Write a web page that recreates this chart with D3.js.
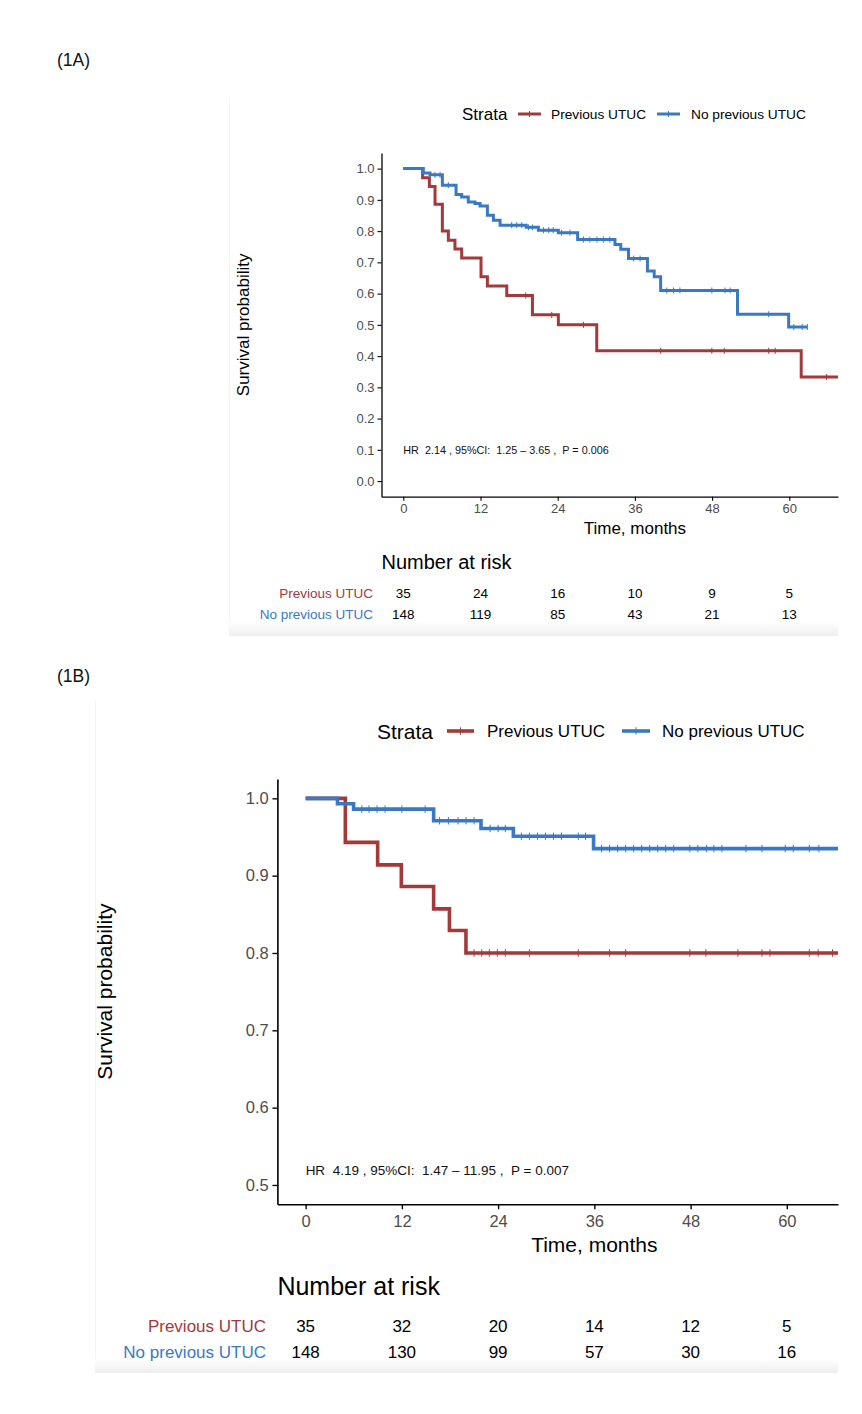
<!DOCTYPE html>
<html>
<head>
<meta charset="utf-8">
<script src="https://cdn.jsdelivr.net/npm/d3@7"></script>
<style>
  body { margin: 0; background: #fff; }
  svg text { font-family: "Liberation Sans", Arial, Helvetica, sans-serif; }
</style>
</head>
<body>
<div id="chart"></div>
<script>
// Kaplan-Meier curves, two panels (1A, 1B)
const groups = ["Previous UTUC", "No previous UTUC"];
const colors = ["#a3393a", "#3a78c4"];
const riskTimes = [0, 12, 24, 36, 48, 60];
const xTicks = [0, 12, 24, 36, 48, 60];

// Panel 1A
const timeA_prev = [0, 3.0, 4.05, 4.93, 6.07, 7.0, 8.03, 9.07, 12.08, 13.07, 16.08, 20.07, 24.1, 30.07, 61.85, 70];
const survA_prev = [1, 0.971, 0.943, 0.886, 0.800, 0.771, 0.743, 0.714, 0.654, 0.624, 0.594, 0.532, 0.500, 0.417, 0.333, 0.333];
const censA_prev = [19.03, 23.07, 28.0, 40.0, 47.96, 49.9, 56.8, 57.8, 65.8];
const timeA_no = [0, 3.11, 4.15, 6.07, 8.2, 9.07, 10.1, 11.15, 11.93, 13.07, 14.0, 15.04, 19.1, 21.0, 24.1, 27.1, 32.9, 33.8, 35.0, 37.95, 39.0, 40.0, 51.95, 59.9, 62.8];
const survA_no = [1, 0.986, 0.980, 0.947, 0.917, 0.909, 0.893, 0.888, 0.880, 0.851, 0.835, 0.819, 0.812, 0.803, 0.795, 0.773, 0.757, 0.742, 0.712, 0.672, 0.654, 0.610, 0.534, 0.493, 0.493];
const censA_no = [4.93, 5.71, 7.0, 16.85, 17.63, 18.41, 19.44, 20.1, 21.8, 22.6, 23.3, 24.6, 25.9, 28.0, 29.0, 30.1, 31.1, 32.1, 35.8, 36.8, 40.96, 42.0, 43.0, 47.96, 50.0, 50.8, 56.8, 60.7, 62.0, 62.8];
const riskA_prev = [35, 24, 16, 10, 9, 5];
const riskA_no = [148, 119, 85, 43, 21, 13];
const yTicksA = [0, 0.1, 0.2, 0.3, 0.4, 0.5, 0.6, 0.7, 0.8, 0.9, 1.0];

// Panel 1B
const timeB_prev = [0, 4.95, 8.98, 11.93, 15.96, 17.93, 19.99, 70];
const survB_prev = [1, 0.943, 0.914, 0.886, 0.857, 0.829, 0.800, 0.800];
const censB_prev = [21.0, 21.96, 22.9, 23.9, 24.9, 27.9, 34.0, 37.9, 39.9, 47.9, 49.9, 53.9, 56.9, 57.9, 62.8, 63.9, 65.7];
const timeB_no = [0, 3.97, 5.98, 15.96, 21.87, 25.9, 35.9, 70];
const survB_no = [1, 0.993, 0.986, 0.971, 0.961, 0.951, 0.935, 0.935];
const censB_no = [7.0, 7.9, 8.9, 9.9, 12.0, 14.9, 16.7, 17.8, 19.0, 20.0, 21.0, 23.0, 24.0, 24.9,
  26.9, 27.9, 28.9, 29.9, 30.9, 31.9, 34.0, 34.9, 36.9, 37.9, 38.9, 39.9, 40.9, 41.9, 42.9, 43.9,
  44.9, 45.9, 47.9, 48.9, 50.0, 50.9, 51.9, 54.9, 56.9, 59.8, 60.8, 62.8, 64.0];
const riskB_prev = [35, 32, 20, 14, 12, 5];
const riskB_no = [148, 130, 99, 57, 30, 16];
const yTicksB = [0.5, 0.6, 0.7, 0.8, 0.9, 1.0];

const svg = d3.select("#chart").append("svg")
  .attr("width", 862).attr("height", 1414);

const defs = svg.append("defs");
const grad = defs.append("linearGradient").attr("id", "fade")
  .attr("x1", 0).attr("y1", 0).attr("x2", 0).attr("y2", 1);
grad.append("stop").attr("offset", "0%").attr("stop-color", "#fff");
grad.append("stop").attr("offset", "100%").attr("stop-color", "#eeeeee");

function drawPanel(cfg) {
  const g = svg.append("g");
  const f = cfg.k; // size factor

  // faint panel frame + bottom shade
  g.append("line").attr("x1", cfg.box[0] + 0.5).attr("x2", cfg.box[0] + 0.5)
    .attr("y1", cfg.box[1]).attr("y2", cfg.box[3]).attr("stroke", "#f4f4f4");
  g.append("rect").attr("x", cfg.box[0]).attr("y", cfg.box[3] - 14)
    .attr("width", cfg.box[2] - cfg.box[0]).attr("height", 14).attr("fill", "url(#fade)");

  g.append("text").attr("x", 57).attr("y", cfg.titleY).attr("dominant-baseline", "central")
    .attr("font-size", 17.5).attr("fill", "#111").text(cfg.title);

  const x = d3.scaleLinear().domain(cfg.xDomain).range(cfg.xRange);
  const y = d3.scaleLinear().domain(cfg.yDomain).range(cfg.yRange);

  const clipId = "clip" + cfg.title.replace(/\W/g, "");
  defs.append("clipPath").attr("id", clipId).append("rect")
    .attr("x", cfg.xRange[0]).attr("y", cfg.yRange[1] - 5)
    .attr("width", cfg.xRange[1] - cfg.xRange[0]).attr("height", cfg.yRange[0] - cfg.yRange[1] + 5);

  // axes
  const xAxis = g.append("g").attr("transform", `translate(0,${cfg.yRange[0]})`)
    .call(d3.axisBottom(x).tickValues(xTicks).tickSize(4 * f).tickPadding(cfg.xPad).tickSizeOuter(0));
  const yAxis = g.append("g").attr("transform", `translate(${cfg.xRange[0]},0)`)
    .call(d3.axisLeft(y).tickValues(cfg.yTicks).tickFormat(d3.format(".1f"))
      .tickSize(4 * f).tickPadding(3 * f).tickSizeOuter(0));
  [xAxis, yAxis].forEach(a => {
    a.select(".domain").attr("stroke", "#000").attr("stroke-width", 1.3 * f);
    a.selectAll(".tick line").attr("stroke", "#000").attr("stroke-width", 1.1 * f);
    a.selectAll(".tick text").attr("fill", "#4d4d4d").attr("font-size", cfg.tickFont)
      .style("font-family", '"Liberation Sans", Arial, sans-serif');
  });

  // curves
  const line = d3.line().x(d => x(d[0])).y(d => y(d[1])).curve(d3.curveStepAfter);
  const curves = g.append("g").attr("clip-path", `url(#${clipId})`);
  cfg.series.forEach((s, i) => {
    const pts = s.time.map((t, j) => [t, s.surv[j]]);
    curves.append("path").attr("d", line(pts)).attr("fill", "none")
      .attr("stroke", colors[i]).attr("stroke-width", cfg.lw).attr("stroke-linejoin", "miter");
    const survAt = t => s.surv[d3.bisectRight(s.time, t) - 1];
    curves.selectAll(null).data(s.cens).enter().append("line")
      .attr("x1", d => x(d)).attr("x2", d => x(d))
      .attr("y1", d => y(survAt(d)) - 3 * f).attr("y2", d => y(survAt(d)) + 3 * f)
      .attr("stroke", colors[i]).attr("stroke-width", 1);
  });

  // HR annotation
  g.append("text").attr("x", x(0)).attr("y", cfg.hrY).attr("dominant-baseline", "central")
    .attr("font-size", cfg.hrFont).attr("fill", "#111").style("white-space", "pre").text(cfg.hr);

  // axis titles
  g.append("text").attr("transform", `translate(${cfg.yTitleX},${(cfg.yRange[0] + cfg.yRange[1]) / 2}) rotate(-90)`)
    .attr("text-anchor", "middle").attr("dominant-baseline", "central")
    .attr("font-size", cfg.titleFont).attr("fill", "#000").text("Survival probability");
  g.append("text").attr("x", x(36)).attr("y", cfg.xTitleY).attr("text-anchor", "middle")
    .attr("dominant-baseline", "central").attr("font-size", cfg.titleFont).attr("fill", "#000")
    .text("Time, months");

  // legend
  const lg = g.append("g");
  lg.append("text").attr("x", cfg.leg.strata).attr("y", cfg.leg.y).attr("dominant-baseline", "central")
    .attr("font-size", cfg.leg.titleFont).attr("fill", "#000").text("Strata");
  groups.forEach((name, i) => {
    const [a, b] = cfg.leg.sw[i];
    lg.append("line").attr("x1", a).attr("x2", b).attr("y1", cfg.leg.y).attr("y2", cfg.leg.y)
      .attr("stroke", colors[i]).attr("stroke-width", cfg.lw);
    lg.append("line").attr("x1", (a + b) / 2).attr("x2", (a + b) / 2)
      .attr("y1", cfg.leg.y - 3 * f).attr("y2", cfg.leg.y + 3 * f)
      .attr("stroke", colors[i]).attr("stroke-width", 1);
    lg.append("text").attr("x", cfg.leg.lab[i]).attr("y", cfg.leg.y).attr("dominant-baseline", "central")
      .attr("font-size", cfg.leg.font).attr("fill", "#000").text(name);
  });

  // risk table
  g.append("text").attr("x", cfg.xRange[0]).attr("y", cfg.riskTitleY).attr("dominant-baseline", "central")
    .attr("font-size", cfg.riskTitleFont).attr("fill", "#000").text("Number at risk");
  cfg.risk.forEach((row, i) => {
    const ry = cfg.riskY[i];
    g.append("text").attr("x", cfg.riskLabX).attr("y", ry).attr("text-anchor", "end")
      .attr("dominant-baseline", "central").attr("font-size", cfg.riskFont)
      .attr("fill", colors[i]).text(groups[i]);
    g.selectAll(null).data(row).enter().append("text")
      .attr("x", (d, j) => x(riskTimes[j])).attr("y", ry).attr("text-anchor", "middle")
      .attr("dominant-baseline", "central").attr("font-size", cfg.riskFont).attr("fill", "#000")
      .text(d => d);
  });
}

drawPanel({
  title: "(1A)", titleY: 60, k: 1,
  box: [229, 97, 838, 636],
  xDomain: [-3.39, 67.57], xRange: [381.5, 838],
  yDomain: [-0.05, 1.05], yRange: [496.7, 153],
  yTicks: yTicksA, tickFont: 13, lw: 3, xPad: 3.5,
  series: [
    { time: timeA_prev, surv: survA_prev, cens: censA_prev },
    { time: timeA_no, surv: survA_no, cens: censA_no }
  ],
  hr: "HR  2.14 , 95%CI:  1.25 \u2013 3.65 ,  P = 0.006", hrY: 450, hrFont: 10.8,
  yTitleX: 243, xTitleY: 528, titleFont: 17,
  leg: { y: 114, strata: 462, titleFont: 17, font: 13.7, sw: [[518, 541], [657, 680]], lab: [551, 691] },
  riskTitleY: 562, riskTitleFont: 20, riskY: [593, 614], riskFont: 13.5, riskLabX: 373,
  risk: [riskA_prev, riskA_no]
});

drawPanel({
  title: "(1B)", titleY: 676, k: 1.24,
  box: [95, 700, 838, 1373],
  xDomain: [-3.52, 66.38], xRange: [277.4, 838],
  yDomain: [0.475, 1.025], yRange: [1204.3, 779],
  yTicks: yTicksB, tickFont: 16.5, lw: 3.6, xPad: 6,
  series: [
    { time: timeB_prev, surv: survB_prev, cens: censB_prev },
    { time: timeB_no, surv: survB_no, cens: censB_no }
  ],
  hr: "HR  4.19 , 95%CI:  1.47 \u2013 11.95 ,  P = 0.007", hrY: 1170, hrFont: 13.5,
  yTitleX: 104, xTitleY: 1244, titleFont: 21,
  leg: { y: 731, strata: 377, titleFont: 21, font: 17, sw: [[447, 474], [622, 650]], lab: [487, 662] },
  riskTitleY: 1286, riskTitleFont: 25, riskY: [1326, 1352], riskFont: 17, riskLabX: 266,
  risk: [riskB_prev, riskB_no]
});
</script>
</body>
</html>
